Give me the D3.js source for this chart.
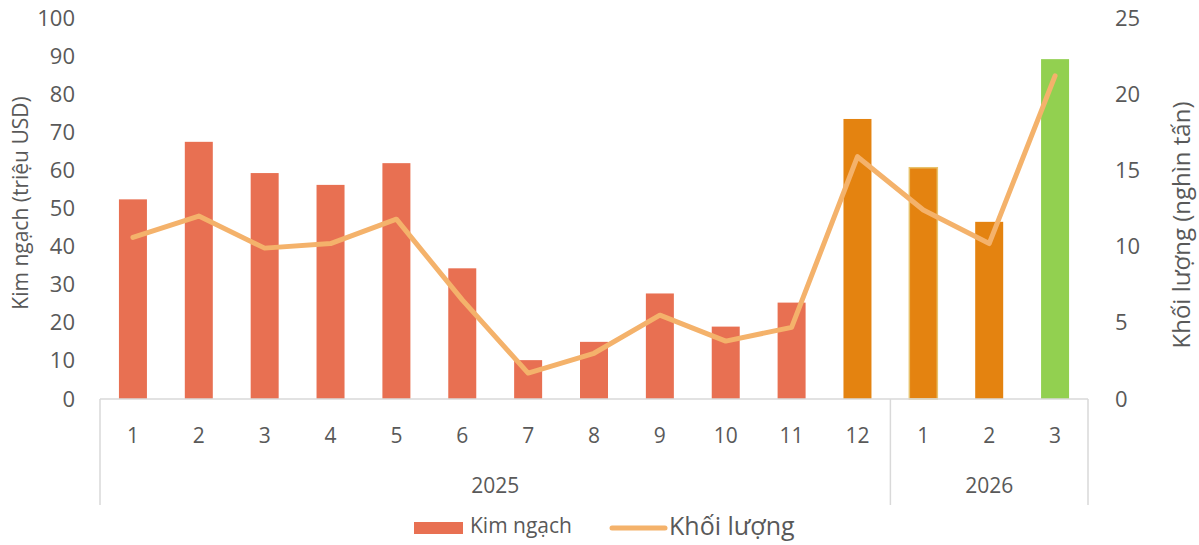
<!DOCTYPE html>
<html>
<head>
<meta charset="utf-8">
<script src="https://cdn.jsdelivr.net/npm/d3@7"></script>
<style>
  body { margin: 0; background: #fff; }
  svg text { font-family: "Open Sans", sans-serif; fill: #595959; }
</style>
</head>
<body>
<div id="chart"></div>
<script>
// data
const months = ["1", "2", "3", "4", "5", "6", "7", "8", "9", "10", "11", "12", "1", "2", "3"];
const years = ["2025", "2025", "2025", "2025", "2025", "2025", "2025", "2025", "2025", "2025", "2025", "2025", "2026", "2026", "2026"];
const kimNgach = [52.4, 67.5, 59.3, 56.2, 61.9, 34.3, 10.2, 15.0, 27.7, 19.0, 25.3, 73.5, 60.7, 46.5, 89.2];
const khoiLuong = [10.6, 12.0, 9.9, 10.2, 11.8, 6.5, 1.7, 3.0, 5.5, 3.8, 4.7, 15.9, 12.4, 10.2, 21.2];
const leftTicks = [0, 10, 20, 30, 40, 50, 60, 70, 80, 90, 100];
const rightTicks = [0, 5, 10, 15, 20, 25];

const width = 1199, height = 545;
const margin = { top: 18, right: 111, bottom: 146, left: 100 };
const plotW = width - margin.left - margin.right;
const plotH = height - margin.top - margin.bottom;

const svg = d3.select("#chart").append("svg")
    .attr("width", width)
    .attr("height", height);

const g = svg.append("g")
    .attr("transform", `translate(${margin.left}, ${margin.top})`);

const keys = months.map((m, i) => years[i] + "-" + m);

const x = d3.scaleBand().domain(keys).range([0, plotW]).padding(0);
const yL = d3.scaleLinear().domain([0, 100]).range([plotH, 0]);
const yR = d3.scaleLinear().domain([0, 25]).range([plotH, 0]);

const barW = x.bandwidth() * 0.425;

// bar colours: older months red, recent months orange, latest green
function barColor(i) {
    if (i === keys.length - 1) return "#92d050";
    if (i >= 11) return "#e48310";
    return "#e87052";
}

// bars
g.selectAll(".bar")
    .data(kimNgach)
    .enter()
    .append("rect")
    .attr("class", "bar")
    .attr("x", (d, i) => x(keys[i]) + (x.bandwidth() - barW) / 2)
    .attr("y", d => yL(d))
    .attr("width", barW)
    .attr("height", d => plotH - yL(d))
    .attr("fill", (d, i) => barColor(i))
    .attr("stroke", (d, i) => i === 12 ? "#e8c26c" : "none")
    .attr("stroke-width", 1.5);

// line
const line = d3.line()
    .x((d, i) => x(keys[i]) + x.bandwidth() / 2)
    .y(d => yR(d));

g.append("path")
    .datum(khoiLuong)
    .attr("d", line)
    .attr("fill", "none")
    .attr("stroke", "#f4b26b")
    .attr("stroke-width", 5)
    .attr("stroke-linejoin", "round")
    .attr("stroke-linecap", "round");

// category axis
g.append("line")
    .attr("x1", 0).attr("x2", plotW)
    .attr("y1", plotH).attr("y2", plotH)
    .attr("stroke", "#d9d9d9")
    .attr("stroke-width", 1.5);

// year group boundaries
const yearGroups = d3.groups(keys.map((k, i) => ({ k, year: years[i] })), d => d.year);
const bounds = [0];
yearGroups.forEach(([yr, items]) => {
    bounds.push(x(items[items.length - 1].k) + x.bandwidth());
});

g.selectAll(".sep")
    .data(bounds)
    .enter()
    .append("line")
    .attr("class", "sep")
    .attr("x1", d => d).attr("x2", d => d)
    .attr("y1", plotH).attr("y2", plotH + 106)
    .attr("stroke", "#d9d9d9")
    .attr("stroke-width", 1.5);

g.selectAll(".month")
    .data(months)
    .enter()
    .append("text")
    .attr("class", "month")
    .attr("x", (d, i) => x(keys[i]) + x.bandwidth() / 2)
    .attr("y", plotH + 38)
    .attr("text-anchor", "middle")
    .attr("dominant-baseline", "middle")
    .style("font-size", "21px")
    .text(d => d);

g.selectAll(".year")
    .data(yearGroups)
    .enter()
    .append("text")
    .attr("class", "year")
    .attr("x", ([yr, items]) => (x(items[0].k) + x(items[items.length - 1].k) + x.bandwidth()) / 2)
    .attr("y", plotH + 88)
    .attr("text-anchor", "middle")
    .attr("dominant-baseline", "middle")
    .style("font-size", "21px")
    .text(([yr]) => yr);

// left axis
const leftAxis = d3.axisLeft(yL).tickValues(leftTicks).tickSize(0).tickPadding(25);
g.append("g")
    .attr("class", "axis-left")
    .call(leftAxis)
    .call(a => a.select(".domain").remove())
    .selectAll("text")
    .style("font-size", "22px")
    .attr("fill", "#595959");

// right axis
const rightAxis = d3.axisRight(yR).tickValues(rightTicks).tickSize(0).tickPadding(27);
g.append("g")
    .attr("class", "axis-right")
    .attr("transform", `translate(${plotW}, 0)`)
    .call(rightAxis)
    .call(a => a.select(".domain").remove())
    .selectAll("text")
    .style("font-size", "22px")
    .attr("fill", "#595959");

// axis titles
svg.append("text")
    .attr("transform", `translate(22, 203) rotate(-90)`)
    .attr("text-anchor", "middle")
    .attr("dominant-baseline", "middle")
    .style("font-size", "21px")
    .text("Kim ngạch (triệu USD)");

svg.append("text")
    .attr("transform", `translate(1184, 225) rotate(-90)`)
    .attr("text-anchor", "middle")
    .attr("dominant-baseline", "middle")
    .style("font-size", "24px")
    .text("Khối lượng (nghìn tấn)");

// legend
const legend = svg.append("g").attr("class", "legend");

legend.append("rect")
    .attr("x", 414).attr("y", 522)
    .attr("width", 49).attr("height", 12)
    .attr("fill", "#e87052");

legend.append("text")
    .attr("x", 470).attr("y", 527)
    .attr("dominant-baseline", "middle")
    .style("font-size", "21px")
    .text("Kim ngạch");

legend.append("line")
    .attr("x1", 612).attr("x2", 665)
    .attr("y1", 528).attr("y2", 528)
    .attr("stroke", "#f4b26b")
    .attr("stroke-width", 5)
    .attr("stroke-linecap", "round");

legend.append("text")
    .attr("x", 669).attr("y", 528)
    .attr("dominant-baseline", "middle")
    .style("font-size", "25px")
    .text("Khối lượng");
</script>
</body>
</html>
